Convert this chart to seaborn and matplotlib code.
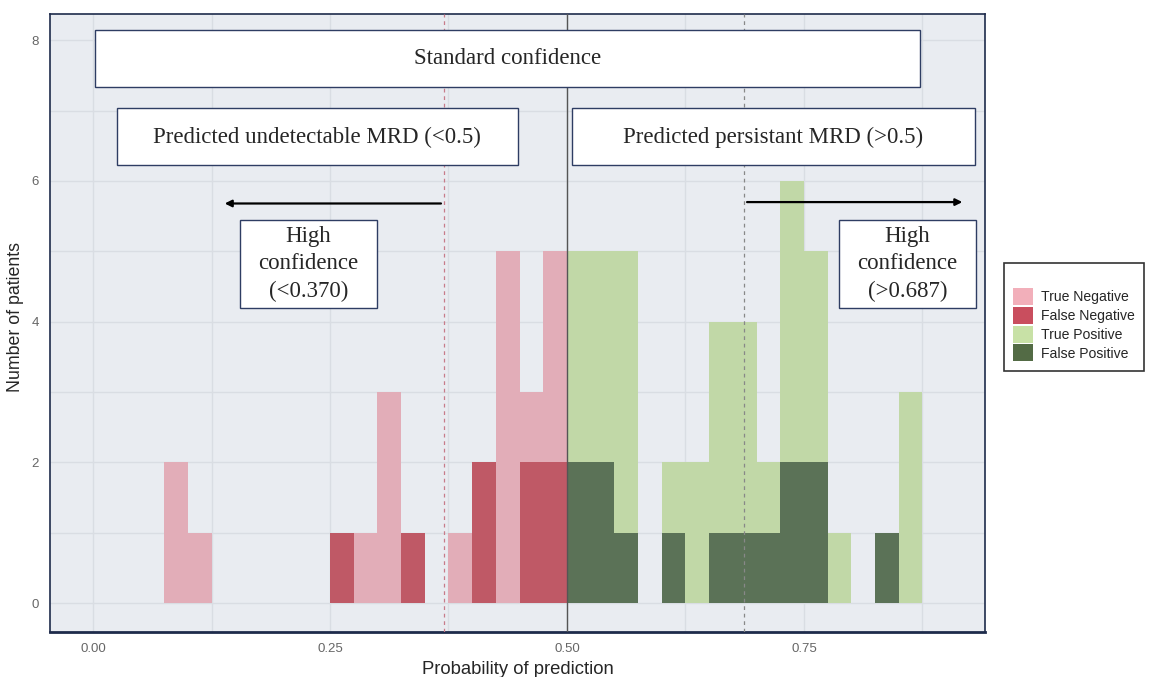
import numpy as np
import pandas as pd
import matplotlib.pyplot as plt
import seaborn as sns
from matplotlib.patches import Rectangle, Patch

# ===============================
# DATA (counts per 0.025-wide bin, left edge of bin)
# ===============================
neg_bins = [0.075, 0.100, 0.250, 0.275, 0.300, 0.325, 0.375, 0.400, 0.425, 0.450, 0.475]
true_neg = [2, 1, 0, 1, 3, 0, 1, 0, 5, 1, 3]
false_neg = [0, 0, 1, 0, 0, 1, 0, 2, 0, 2, 2]

pos_bins = [0.500, 0.525, 0.550, 0.600, 0.625, 0.650, 0.675, 0.700, 0.725, 0.750, 0.775, 0.825, 0.850]
true_pos = [3, 3, 4, 1, 2, 3, 3, 1, 4, 3, 1, 0, 3]
false_pos = [2, 2, 1, 1, 0, 1, 1, 1, 2, 2, 0, 1, 0]

classes = ['True Negative', 'False Negative', 'True Positive', 'False Positive']
bar_colors = ['#E2ADB8', '#BF5966', '#C1D8A7', '#5B7257']
legend_colors = ['#F2AFBA', '#C94E5E', '#C8E1A6', '#536B45']

thr_low, thr_mid, thr_high = 0.370, 0.5, 0.687
bin_width = 0.025

# long-form table for seaborn
rows = []
for lefts, counts, name in [(neg_bins, true_neg, classes[0]),
                            (neg_bins, false_neg, classes[1]),
                            (pos_bins, true_pos, classes[2]),
                            (pos_bins, false_pos, classes[3])]:
    for b, c in zip(lefts, counts):
        rows.append({'prob': b + bin_width / 2, 'n': c, 'outcome': name})
df = pd.DataFrame(rows)

# ===============================
# PLOT
# ===============================
sns.set_style('whitegrid')
plt.rcParams['font.family'] = ['Liberation Sans', 'DejaVu Sans']

fig = plt.figure(figsize=(11.54, 6.77), dpi=100)
ax = fig.add_axes([0.0433, 0.0665, 0.8103, 0.9125])
ax.set_facecolor('#E9ECF1')

sns.histplot(
    data=df, x='prob', weights='n', hue='outcome',
    hue_order=classes, palette=dict(zip(classes, bar_colors)),
    multiple='stack', binwidth=bin_width, binrange=(0, 0.9),
    alpha=1, linewidth=0, ax=ax, legend=False, zorder=2
)

# grid
ax.set_xticks(np.arange(0, 0.76, 0.25))
ax.set_xticks(np.arange(0.125, 0.9, 0.25), minor=True)
ax.set_yticks(np.arange(0, 9, 2))
ax.set_yticks(np.arange(1, 9, 2), minor=True)
ax.grid(True, which='both', color='#D9DDE3', linewidth=1.0, zorder=0)
ax.set_axisbelow(True)
ax.set_xticklabels(['0.00', '0.25', '0.50', '0.75'])
ax.tick_params(axis='both', which='both', length=0, labelsize=9.5,
               labelcolor='#666666', pad=8)
ax.set_xlim(-0.0454, 0.941)
ax.set_ylim(-0.41, 8.37)
ax.set_xlabel('Probability of prediction', fontsize=13.3, labelpad=4)
ax.set_ylabel('Number of patients', fontsize=12.8, labelpad=2)
ax.yaxis.set_label_coords(-0.028, 0.51)
for s in ax.spines.values():
    s.set_color('#1E2B4B')
    s.set_linewidth(1.2)
ax.spines['bottom'].set_linewidth(2)

# threshold lines
ax.axvline(thr_mid, color='#555555', linewidth=1, zorder=3)
ax.axvline(thr_low, color='#C77C8A', linewidth=0.9, linestyle=(0, (3, 3)), zorder=3)
ax.axvline(thr_high, color='#888888', linewidth=0.9, linestyle=(0, (3, 3)), zorder=3)

# annotation boxes
serif = ['Liberation Serif', 'DejaVu Serif']
box_kw = dict(facecolor='white', edgecolor='#2E3D63', linewidth=1, zorder=4)


def label_box(x0, x1, y0, y1, text, size=16.5):
    ax.add_patch(Rectangle((x0, y0), x1 - x0, y1 - y0, **box_kw))
    ax.text((x0 + x1) / 2, (y0 + y1) / 2, text, ha='center', va='center',
            fontsize=size, family=serif, zorder=5, linespacing=1.4)


label_box(0.002, 0.872, 7.33, 8.14, 'Standard confidence')
label_box(0.025, 0.448, 6.22, 7.03, 'Predicted undetectable MRD (<0.5)')
label_box(0.505, 0.930, 6.22, 7.03, 'Predicted persistant MRD (>0.5)')
label_box(0.155, 0.300, 4.20, 5.44, 'High\nconfidence\n(<0.370)')
label_box(0.787, 0.931, 4.20, 5.44, 'High\nconfidence\n(>0.687)')

# arrows
arrow_kw = dict(arrowstyle='-|>', color='black', lw=1.6, mutation_scale=10)
ax.annotate('', xy=(0.136, 5.68), xytext=(thr_low, 5.68), arrowprops=arrow_kw, zorder=5)
ax.annotate('', xy=(0.920, 5.70), xytext=(thr_high, 5.70), arrowprops=arrow_kw, zorder=5)

# legend
handles = [Patch(facecolor=c, edgecolor='none', label=l)
           for c, l in zip(legend_colors, classes)]
leg = ax.legend(handles=handles, loc='upper left', bbox_to_anchor=(1.0205, 0.597),
                title=' ', frameon=True, fontsize=10.1, handlelength=1.4,
                handleheight=1.5, handletextpad=0.6, labelspacing=0.12,
                borderpad=0.65, borderaxespad=0, fancybox=False)
leg.get_frame().set_edgecolor('black')
leg.get_frame().set_linewidth(1.2)

plt.savefig('out.png', dpi=100)
plt.close()
